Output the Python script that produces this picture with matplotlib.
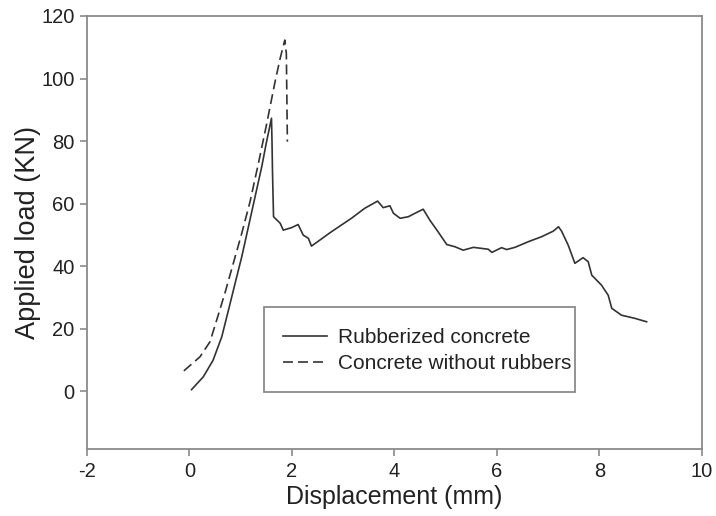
import matplotlib
matplotlib.use("Agg")
import matplotlib.pyplot as plt
from matplotlib.patches import Rectangle

plt.rcParams['font.family'] = ['Liberation Sans', 'DejaVu Sans']

# Rubberized concrete (displacement mm, load kN)
rub_x = [0.04, 0.27, 0.46, 0.63, 0.76, 0.89, 1.02, 1.15, 1.28, 1.41, 1.50, 1.60,
         1.61, 1.62, 1.64, 1.77, 1.83, 1.99, 2.12, 2.22, 2.32, 2.38,
         2.77, 3.16, 3.42, 3.67, 3.78, 3.91, 3.98, 4.11, 4.27, 4.40, 4.56,
         4.69, 4.85, 5.02, 5.18, 5.34, 5.54, 5.83, 5.90, 6.09, 6.19, 6.35,
         6.61, 6.87, 7.10, 7.20, 7.26, 7.39, 7.52, 7.68, 7.78, 7.85, 8.04,
         8.17, 8.24, 8.43, 8.69, 8.92]
rub_y = [0.5, 4.6, 9.9, 17.4, 25.9, 34.5, 43.0, 52.6, 62.2, 71.8, 79.5, 87.3,
         80.0, 70.0, 55.8, 53.7, 51.5, 52.3, 53.3, 49.9, 48.9, 46.4,
         51.0, 55.3, 58.5, 60.8, 58.7, 59.3, 56.9, 55.3, 55.8, 56.9, 58.2,
         54.7, 51.0, 46.9, 46.2, 45.1, 46.0, 45.4, 44.4, 45.9, 45.3, 46.0,
         47.8, 49.4, 51.2, 52.6, 51.2, 46.7, 40.9, 42.7, 41.4, 37.1, 33.9,
         30.7, 26.5, 24.3, 23.3, 22.2]

# Concrete without rubbers
plain_x = [-0.11, 0.205, 0.40, 0.53, 0.69, 0.855, 1.02, 1.18, 1.34, 1.50,
           1.67, 1.77, 1.86, 1.89, 1.91]
plain_y = [6.5, 11.0, 15.8, 22.7, 31.3, 40.9, 50.5, 60.5, 72.5, 85.0,
           99.0, 106.5, 112.3, 108.0, 79.8]

x_ticks = [-2, 0, 2, 4, 6, 8, 10]
y_ticks = [0, 20, 40, 60, 80, 100, 120]

fig = plt.figure(figsize=(7.16, 5.16), dpi=100)
ax = fig.add_axes([0.1215, 0.1298, 0.8589, 0.8392])

line_c = '#333333'
ax.plot(rub_x, rub_y, color=line_c, lw=1.2, label='Rubberized concrete')
ax.plot(plain_x, plain_y, color=line_c, lw=1.2, linestyle=(0, (6, 3)),
        label='Concrete without rubbers')

ax.set_xlim(-2, 10)
ax.set_ylim(-18.5, 120)
ax.set_xticks(x_ticks)
ax.set_yticks(y_ticks)
ax.set_xticklabels([str(v) for v in x_ticks])
ax.set_yticklabels([str(v) for v in y_ticks])

spine_c = '#8a8a8a'
for s in ax.spines.values():
    s.set_color(spine_c)
    s.set_linewidth(1.3)
ax.tick_params(axis='both', direction='out', length=5, width=1.2, color=spine_c,
               labelsize=14.5, labelcolor='#222222', pad=4)

ax.set_xlabel('Displacement (mm)', fontsize=18, color='#222222', labelpad=3)
ax.set_ylabel('Applied load (KN)', fontsize=19.5, color='#222222', labelpad=0)

# legend frame drawn as a box in axes coordinates
ax.add_patch(Rectangle((0.288, 0.132), 0.505, 0.196, transform=ax.transAxes,
                       fill=True, facecolor='white', edgecolor=spine_c, lw=1.3,
                       zorder=4))
leg = ax.legend(loc='upper left', bbox_to_anchor=(0.318, 0.279), fontsize=15,
                frameon=False, handlelength=2.15, handletextpad=0.53,
                borderpad=0.0, labelspacing=0.33, borderaxespad=0)
leg.set_zorder(5)
for t in leg.get_texts():
    t.set_color('#222222')

fig.savefig('out.png', dpi=100)
